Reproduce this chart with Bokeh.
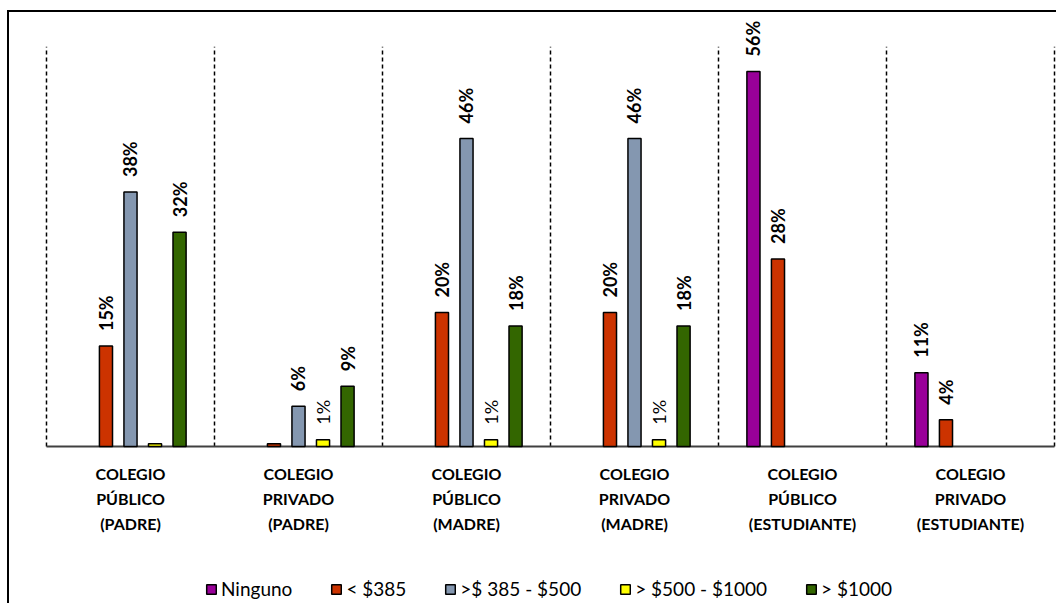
from bokeh.plotting import figure
from bokeh.models import ColumnDataSource, Range1d, Legend, LegendItem
from bokeh.core.properties import value
from bokeh.embed import file_html
from bokeh.resources import INLINE

# Category labels (one group per school type / respondent)
groups = [
    "COLEGIO\nPÚBLICO\n(PADRE)",
    "COLEGIO\nPRIVADO\n(PADRE)",
    "COLEGIO\nPÚBLICO\n(MADRE)",
    "COLEGIO\nPRIVADO\n(MADRE)",
    "COLEGIO\nPÚBLICO\n(ESTUDIANTE)",
    "COLEGIO\nPRIVADO\n(ESTUDIANTE)",
]

# Income brackets (series)
series = ["Ninguno", "< $385", ">$ 385 - $500", "> $500 - $1000", "> $1000"]

# Percentages per bracket, one value per group
ninguno = [0, 0, 0, 0, 56, 11]
menos_385 = [15, 0.4, 20, 20, 28, 4]
de_385_a_500 = [38, 6, 46, 46, 0, 0]
de_500_a_1000 = [0.4, 1, 1, 1, 0, 0]
mas_de_1000 = [32, 9, 18, 18, 0, 0]

values = [ninguno, menos_385, de_385_a_500, de_500_a_1000, mas_de_1000]
colors = ["#990099", "#CC3300", "#8497B0", "#FFFF00", "#336600"]

FONT = "Lato"
SLOT = 0.146      # distance between neighbouring bars inside a group
BAR_W = 0.078     # bar width in group units
Y_TOP = 59.7      # top of the dashed group separators (in % units)

n = len(groups)

# the plot frame fills the whole canvas; the category labels and the
# legend live inside it, below the zero line
p = figure(
    width=1049, height=593,
    x_range=Range1d(-0.2202, 6.0238), y_range=Range1d(-23.75, 64.81),
    output_backend="svg", toolbar_location=None,
    min_border=0,
)
p.margin = (10, 0, 0, 7)
p.styles = {"border-left": "2px solid #000000", "border-top": "2px solid #000000"}
p.outline_line_color = None
p.background_fill_color = "white"
p.border_fill_color = "white"
p.xaxis.visible = False
p.yaxis.visible = False
p.grid.visible = False

# dashed separators between groups
sep_x = list(range(n + 1))
p.segment(x0=sep_x, y0=[0] * (n + 1), x1=sep_x, y1=[Y_TOP] * (n + 1),
          line_color="black", line_dash="4 3", line_width=1.5)

# zero line
p.segment(x0=[0], y0=[0], x1=[n], y1=[0], line_color="#404040", line_width=2)

# category labels
centers = [i + 0.5 for i in range(n)]
p.text(x=centers, y=[0] * n, text=groups, text_align="center",
       text_baseline="top", y_offset=18, text_font=value(FONT),
       text_font_size="16px", text_font_style="bold", text_color="black",
       text_line_height=1.3)

items = []
for k, (name, vals, col) in enumerate(zip(series, values, colors)):
    offset = (k - 2) * SLOT
    xs, tops, labels, styles = [], [], [], []
    for i, v in enumerate(vals):
        if v <= 0:
            continue
        xs.append(i + 0.5 + offset)
        tops.append(v)
        labels.append(f"{v:.0f}%" if v >= 1 else "")
        styles.append("normal" if v < 1.5 else "bold")
    src = ColumnDataSource(dict(x=xs, top=tops, label=labels, style=styles))
    r = p.vbar(x="x", top="top", width=BAR_W, bottom=0, source=src,
               fill_color=col, line_color="black", line_width=1.5)
    p.text(x="x", y="top", text="label", source=src, angle=1.5708,
           text_align="left", text_baseline="middle", y_offset=-15,
           text_font=value(FONT), text_font_size="18px",
           text_font_style="style", text_color="black")
    items.append(LegendItem(label=name, renderers=[r]))

legend = Legend(
    items=items, orientation="horizontal", location=(196, 5),
    border_line_color=None, background_fill_alpha=0,
    label_text_font=FONT, label_text_font_size="19px", label_text_color="black",
    glyph_width=12, glyph_height=12, label_standoff=4, spacing=38,
    padding=0, margin=0,
)
p.add_layout(legend, "center")

open("out.html", "w").write(file_html(p, INLINE))
